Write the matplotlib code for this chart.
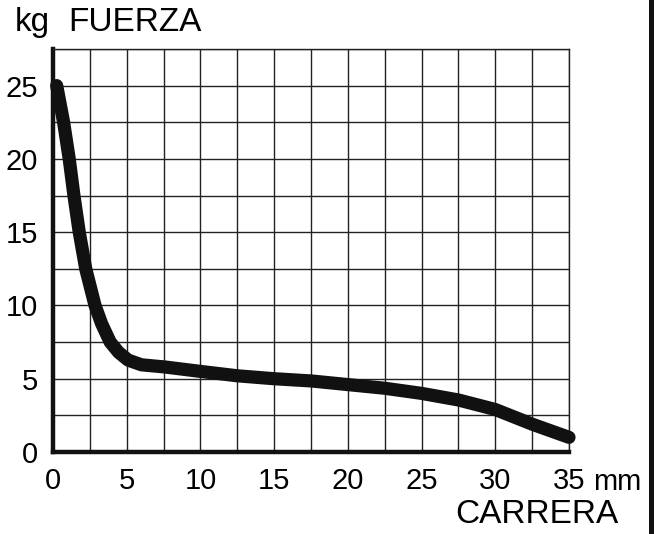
import matplotlib.pyplot as plt
from matplotlib.lines import Line2D
from matplotlib.ticker import MultipleLocator, FuncFormatter

# force (kg) against travel (mm)
carrera = [0.25, 0.72, 1.1, 1.42, 1.78, 2.22, 2.85, 3.3, 3.88, 4.45, 5.1, 6.0,
           7.6, 10.0, 12.5, 15.0, 17.5, 20.0, 22.5, 25.0, 27.5, 30.0, 32.5, 35.0]
fuerza = [25.0, 22.5, 20.0, 17.5, 15.0, 12.5, 10.0, 8.75, 7.5, 6.8, 6.27, 5.95,
          5.8, 5.5, 5.2, 5.0, 4.85, 4.6, 4.35, 4.0, 3.55, 2.9, 1.9, 1.0]

x_ticks = [0, 5, 10, 15, 20, 25, 30, 35]
y_ticks = [0, 5, 10, 15, 20, 25]

W, H = 654, 534
plt.rcParams["font.family"] = ["Liberation Sans", "DejaVu Sans"]

fig = plt.figure(figsize=(W / 100, H / 100), dpi=100)
ax = fig.add_axes([53 / W, 1 - 452 / H, (569 - 53) / W, (452 - 49) / H])

ax.plot(carrera, fuerza, color="#111111", lw=9.5, solid_capstyle="round",
        solid_joinstyle="round", clip_on=False, zorder=5)

ax.set_xlim(0, 35)
ax.set_ylim(0, 27.5)
ax.set_xticks(x_ticks)
ax.set_yticks(y_ticks)
ax.xaxis.set_minor_locator(MultipleLocator(2.5))
ax.yaxis.set_minor_locator(MultipleLocator(2.5))
ax.xaxis.set_major_formatter(FuncFormatter(lambda v, p: "%d" % v))
ax.grid(which="both", color="#222222", lw=1.0)
ax.set_axisbelow(True)
ax.tick_params(which="both", length=0)
ax.tick_params(axis="x", labelsize=21, pad=11)
ax.tick_params(axis="y", labelsize=21, pad=11)

for side in ["left", "bottom"]:
    ax.spines[side].set_linewidth(3.2)
    ax.spines[side].set_color("#111111")
for side in ["top", "right"]:
    ax.spines[side].set_linewidth(1.0)
    ax.spines[side].set_color("#222222")

fig.text(15 / W, 1 - 31 / H, "kg", fontsize=24, va="baseline")
fig.text(68 / W, 1 - 31 / H, "FUERZA", fontsize=24, va="baseline")
fig.text(593 / W, 1 - 490 / H, "mm", fontsize=21, va="baseline")
fig.text(455 / W, 1 - 523 / H, "CARRERA", fontsize=24, va="baseline")

# page border on the right
fig.add_artist(Line2D([650.5 / W, 650.5 / W], [0, 1], color="#111111",
                      lw=3.6, transform=fig.transFigure))

fig.savefig("out.png", dpi=100, facecolor="white")
